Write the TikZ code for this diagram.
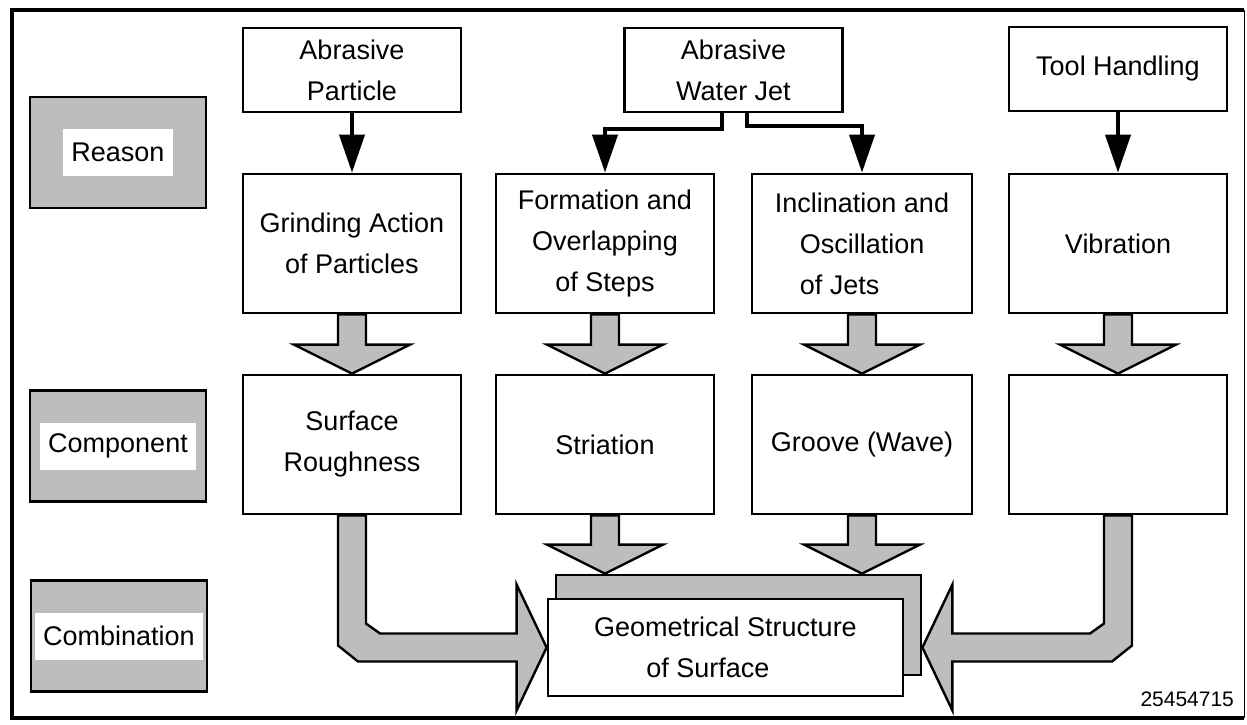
\documentclass[tikz,border=0pt]{standalone}
\usepackage{fontspec}
\setmainfont{Liberation Sans}
\usetikzlibrary{arrows.meta,calc}
\definecolor{dither}{gray}{0.74}
\tikzset{
    %Define style for boxes
    box/.style={
           rectangle,
           draw=black, line width=1.4pt,
           fill=white,
           align=center,
           minimum width=109pt,
           minimum height=69.5pt,
           inner sep=2pt},
    srcbox/.style={
           box,
           minimum height=42pt},
    rowlbl/.style={
           rectangle,
           draw=black, line width=1.4pt,
           fill=dither,
           minimum width=88pt,
           minimum height=55.5pt},
    lbltxt/.style={
           fill=white,
           inner xsep=4pt,
           minimum width=50pt,
           minimum height=23.5pt},
    % Define arrow style
    pil/.style={
           -{Triangle[length=19pt,width=12.5pt]},
           line width=2pt},
    fat/.style={
           draw=black, line width=1.2pt,
           fill=dither,
           line join=miter}
}
% wide shaded arrow straight down
\newcommand{\fatdown}[2]{%
    \filldraw[fat] let \p1=(#1), \p2=(#2) in
        ({\x1-7pt},{\y1}) -- ({\x1-7pt},{\y2+14.5pt}) -- ({\x1-29pt},{\y2+14.5pt})
        -- ({\x1},{\y2}) -- ({\x1+29pt},{\y2+14.5pt}) -- ({\x1+7pt},{\y2+14.5pt})
        -- ({\x1+7pt},{\y1}) -- cycle;}
% wide shaded arrow down, then sideways (#3: 1 right, -1 left)
\newcommand{\bentarr}[3]{%
    \filldraw[fat] let \p1=(#1), \p2=(#2) in
        ({\x1-(#3)*7pt},{\y1}) -- ({\x1-(#3)*7pt},{\y2+1pt})
        -- ({\x1-(#3)*7pt+(#3)*10pt},{\y2-7pt}) -- ({\x2-(#3)*15pt},{\y2-7pt})
        -- ({\x2-(#3)*15pt},{\y2-31.5pt}) -- ({\x2},{\y2})
        -- ({\x2-(#3)*15pt},{\y2+31.5pt}) -- ({\x2-(#3)*15pt},{\y2+7pt})
        -- ({\x1+(#3)*14pt},{\y2+7pt}) -- ({\x1+(#3)*7pt},{\y2+12pt})
        -- ({\x1+(#3)*7pt},{\y1}) -- cycle;}

\begin{document}
\begin{tikzpicture}[x=0.5pt, y=-0.5pt, font=\fontsize{13.5pt}{20.5pt}\selectfont]
    \useasboundingbox (0,0) rectangle (1247,724);
    % FRAME
    \draw[line width=2pt] (1244,10) -- (12,10) -- (12,718) -- (1244,718);
    \draw[line width=0.5pt] (1244,10) -- (1244,718);

    % ROW LABELS
    \node[rowlbl] (rsn) at (118,152.5) {};
    \node[lbltxt] (rsntxt) at (rsn) {Reason};
    \node[rowlbl] (cmp) at (118,446) {};
    \node[lbltxt] (cmptxt) at (cmp) {Component};
    \node[rowlbl] (cmb) at (119,636) {};
    \node[lbltxt] (cmbtxt) at (cmb) {Combination};

    % SOURCES
    \node[srcbox] (apart) at (352,70) {Abrasive\\Particle};
    \node[srcbox] (awj) at (733.5,70) {Abrasive\\Water Jet};
    \node[srcbox] (tool) at (1118,69) {Tool Handling};

    % REASONS
    \node[box] (grind) at (352,243.5) {Grinding Action\\of Particles};
    \node[box] (form) at (605,243.5) {Formation and\\Overlapping\\of Steps};
    \node[box, minimum width=110pt] (incl) at (862,243.5)
        {Inclination and\\\makebox[4.6em][l]{Oscillation}\\\makebox[4.6em][l]{of Jets}};
    \node[box] (vib) at (1118,243.5) {Vibration};

    % COMPONENTS
    \node[box] (rough) at (352,444.5) {Surface\\Roughness};
    \node[box] (stri) at (605,444.5) {Striation};
    \node[box, minimum width=110pt] (groove) at (862,444.5) {Groove (Wave)};
    \node[box] (empty) at (1118,444.5) {};

    % COMBINATION
    \node[rowlbl, minimum width=182.5pt, minimum height=50pt] (geoback) at (738.5,625) {};
    \node[box, minimum width=177.5pt, minimum height=48.5pt] (geo) at (725.5,647.5)
        {Geometrical Structure\\of Surface\hspace*{1.3em}};

    % thin arrows
    \draw[pil] (apart) -- (grind);
    \draw[pil] ([xshift=-5.75pt]awj.south) -- ++(0,16) -| (form.north);
    \draw[pil] ([xshift=6.75pt]awj.south) -- ++(0,13) -| (incl.north);
    \draw[pil] (tool) -- (vib);

    % wide arrows
    \fatdown{grind.south}{rough.north}
    \fatdown{form.south}{stri.north}
    \fatdown{incl.south}{groove.north}
    \fatdown{vib.south}{empty.north}
    \fatdown{stri.south}{geoback.north}
    \fatdown{groove.south}{geoback.north}
    \bentarr{rough.south}{geo.west}{1}
    \bentarr{empty.south}{geoback.east |- geo.west}{-1}

    \node[anchor=south east, font=\fontsize{10.5pt}{12pt}\selectfont] (num) at (1241,714) {25454715};
\end{tikzpicture}
\end{document}
